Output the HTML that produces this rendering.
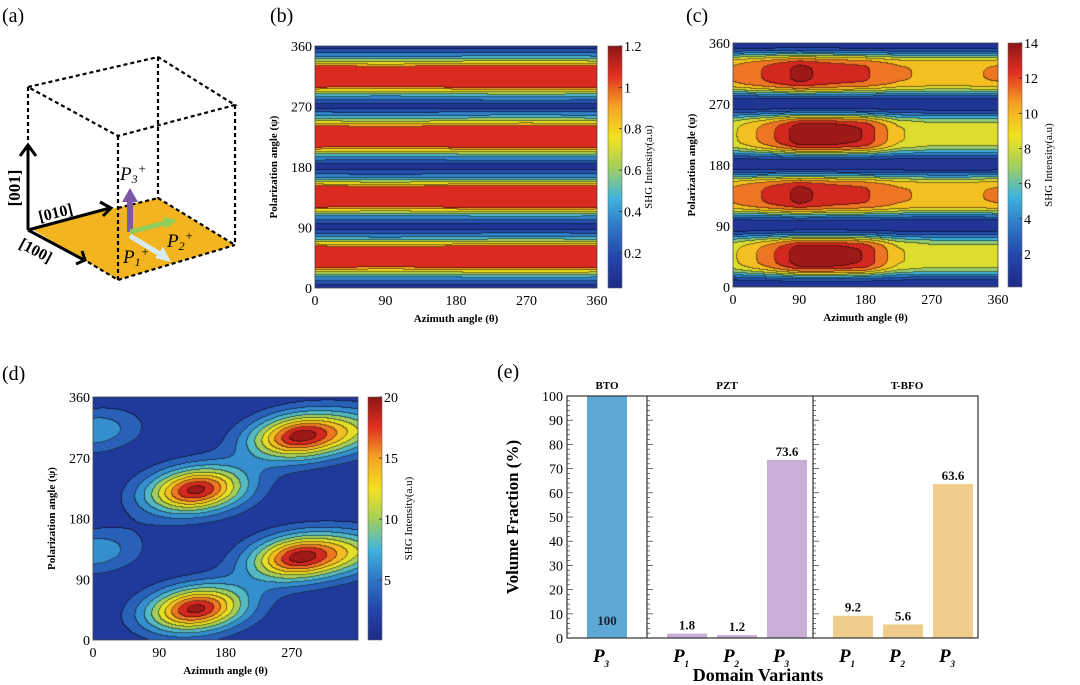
<!DOCTYPE html>
<html><head><meta charset="utf-8">
<style>
html,body{margin:0;padding:0;background:#fff;}
#root{position:relative;width:1080px;height:685px;overflow:hidden;font-family:"Liberation Serif",serif;}
canvas{position:absolute;}
svg{position:absolute;left:0;top:0;}
</style></head>
<body>
<div id="root">
<canvas id="cb" width="282" height="242" style="left:315px;top:46px"></canvas>
<canvas id="cc" width="265" height="244" style="left:733px;top:43px"></canvas>
<canvas id="cd" width="265" height="243" style="left:93px;top:397px"></canvas>
<svg id="sv" width="1080" height="685">
<defs>
<linearGradient id="jet" x1="0" y1="1" x2="0" y2="0">
<stop offset="0" stop-color="#1e2b86"/><stop offset="0.12" stop-color="#2244a8"/><stop offset="0.25" stop-color="#2f76c4"/><stop offset="0.37" stop-color="#3fb3dd"/><stop offset="0.5" stop-color="#a5cf5c"/><stop offset="0.62" stop-color="#f3e21e"/><stop offset="0.75" stop-color="#f4a424"/><stop offset="0.88" stop-color="#e22d22"/><stop offset="1" stop-color="#8c1515"/>
</linearGradient>
</defs>
<g fill="none" stroke="#000" stroke-width="2.2" stroke-dasharray="4,3">
<polygon points="30,228 158,198 235,245 118,280" fill="#f2b51f" stroke="none"/>
<polygon points="28,87 158,57 235,105 118,136"/>
<line x1="28" y1="87" x2="28" y2="140"/>
<line x1="158" y1="57" x2="158" y2="198"/>
<line x1="235" y1="105" x2="235" y2="245"/>
<line x1="118" y1="136" x2="118" y2="280"/>
<line x1="118" y1="208" x2="158" y2="198"/>
<line x1="158" y1="198" x2="235" y2="245"/>
<line x1="118" y1="280" x2="235" y2="245"/>
<line x1="88" y1="262" x2="118" y2="280"/>
</g>
<g stroke="#000" stroke-width="3" fill="none">
<polyline points="28,230 28,146"/><polyline points="20,156 28,145 36,156"/>
<polyline points="28,230 110,208"/><polyline points="100,202 111,208 103,216"/>
<polyline points="28,230 84,260"/><polyline points="76,264 85,260 82,251"/>
</g>
<text x="20" y="188" font-size="17" font-weight="bold" text-anchor="middle" transform="rotate(-90 20 188)">[001]</text>
<text x="40" y="222" font-size="16" font-weight="bold" transform="rotate(-14 40 222)">[010]</text>
<text x="18" y="247" font-size="16" font-weight="bold" transform="rotate(28 18 247)">[100]</text>
<g>
<line x1="130" y1="232" x2="130" y2="200" stroke="#7b59a8" stroke-width="6"/><polygon points="122,202 130,188 138,202" fill="#7b59a8"/>
<line x1="130" y1="232" x2="165" y2="223" stroke="#8fce5a" stroke-width="5"/><polygon points="163,217 177,220 166,229" fill="#8fce5a"/>
<line x1="130" y1="236" x2="160" y2="254" stroke="#d8eaf5" stroke-width="5"/><polygon points="155,258 171,262 163,247" fill="#d8eaf5"/>
</g>
<text x="120" y="180" font-size="19" font-style="italic">P<tspan font-size="12" dy="3">3</tspan><tspan font-size="13" dy="-10">+</tspan></text>
<text x="167" y="247" font-size="19" font-style="italic">P<tspan font-size="12" dy="3">2</tspan><tspan font-size="13" dy="-10">+</tspan></text>
<text x="123" y="263" font-size="19" font-style="italic">P<tspan font-size="12" dy="3">1</tspan><tspan font-size="13" dy="-10">+</tspan></text>
<text x="2" y="22" font-size="20">(a)</text>
<text x="270" y="22" font-size="20">(b)</text>
<text x="686" y="22" font-size="20">(c)</text>
<text x="2" y="380" font-size="20">(d)</text>
<text x="497" y="378" font-size="20">(e)</text>
</svg>
</div>
<script>
// ---- data ----
const psiSamplesB=[0,15,30,45,60,75,90,105,120,135,150,165,180,195,210,225,240,255,270,285,300,315,330,345,360];
const valuesB=[0.05,0.45,1.05,1.2,1.08,0.45,0.04,0.4,1.05,1.2,1.08,0.4,0.03,0.45,1.06,1.2,1.06,0.5,0.04,0.45,1.08,1.2,1.05,0.45,0.05];
const thetaSamplesC=[0,45,90,135,180,225,270,315,360];
const ampC_45_225=[8.5,11,14,14,13,9,8,8,8];
const ampC_135_315=[10.5,12,13.5,12.5,12,10.5,10,10,10.5];
const bandCentersC=[45,135,225,315];
const peakThetaD=[140,140,280,280,0,0,360,360];
const peakPsiD=[45,222,122,302,130,310,130,310];
const peakAmpD=[19,19,18,18,6,6,6,6];
const categoriesE=["BTO P3","PZT P1","PZT P2","PZT P3","T-BFO P1","T-BFO P2","T-BFO P3"];
const valuesE=[100,1.8,1.2,73.6,9.2,5.6,63.6];
const groupE=[0,1,1,1,2,2,2];
const valueLabelsE=["100","1.8","1.2","73.6","9.2","5.6","63.6"];
const subE=["3","1","2","3","1","2","3"];
const angleTicks=[0,90,180,270,360];
const ticksB=[0.2,0.4,0.6,0.8,1,1.2];
const ticksC=[2,4,6,8,10,12,14];
const ticksD=[5,10,15,20];
const yTicksE=[0,10,20,30,40,50,60,70,80,90,100];

const stops=[[0,[30,43,134]],[0.12,[34,68,168]],[0.25,[47,118,196]],[0.37,[63,179,221]],[0.5,[165,207,92]],[0.62,[243,226,30]],[0.75,[244,164,36]],[0.88,[226,45,34]],[1,[140,21,21]]];
function jet(t){t=Math.max(0,Math.min(1,t));for(let i=1;i<stops.length;i++){if(t<=stops[i][0]){const a=stops[i-1],b=stops[i],f=(t-a[0])/(b[0]-a[0]);return a[1].map((v,k)=>v+(b[1][k]-v)*f);}}return stops[stops.length-1][1];}
function interp(xs,ys,x){for(let i=1;i<xs.length;i++){if(x<=xs[i]){const f=(x-xs[i-1])/(xs[i]-xs[i-1]);return ys[i-1]+(ys[i]-ys[i-1])*f;}}return ys[ys.length-1];}
function fieldB(th,ps){return interp(psiSamplesB,valuesB,ps)*(1-0.03*Math.sin(th*Math.PI/180));}
function fieldC(th,ps){let v=0.2;bandCentersC.forEach((c,i)=>{const a=(i%2===0)?interp(thetaSamplesC,ampC_45_225,th):interp(thetaSamplesC,ampC_135_315,th);const d=(ps-c)/27;v+=a*Math.exp(-d*d*d*d*0.6);});return v;}
function fieldD(th,ps){let v=0.8;for(let i=0;i<peakAmpD.length;i++){const dx=(th-peakThetaD[i])/66,dy=(ps-peakPsiD[i]-0.1*(th-peakThetaD[i]))/33;v+=peakAmpD[i]*Math.exp(-Math.pow(dx*dx+dy*dy,0.9));}return v;}
function render(id,fn,xmax,levels,vmin,vmax){
  const cv=document.getElementById(id),ctx=cv.getContext('2d'),W=cv.width,H=cv.height;
  const img=ctx.createImageData(W,H);const idx=new Int16Array(W*H);
  for(let y=0;y<H;y++)for(let x=0;x<W;x++){const th=x/(W-1)*xmax,ps=(1-y/(H-1))*360;const v=fn(th,ps);let k=0;while(k<levels.length&&v>=levels[k])k++;idx[y*W+x]=k;}
  const cols=[];for(let k=0;k<=levels.length;k++){const lo=k===0?vmin:levels[k-1],hi=k===levels.length?vmax:levels[k];cols.push(jet(((lo+hi)/2-vmin)/(vmax-vmin)));}
  for(let y=0;y<H;y++)for(let x=0;x<W;x++){const p=y*W+x,k=idx[p];let c=cols[k];const edge=(x<W-1&&idx[p+1]!==k)||(y<H-1&&idx[p+W]!==k);if(edge)c=c.map(v=>v*0.5);img.data[p*4]=c[0];img.data[p*4+1]=c[1];img.data[p*4+2]=c[2];img.data[p*4+3]=255;}
  ctx.putImageData(img,0,0);
}
render('cb',fieldB,360,[0.15,0.3,0.45,0.6,0.75,0.9,1.02],0.03,1.3);
render('cc',fieldC,360,[1.5,3,4.5,6,7.5,9,10.5,12,13.3],0.12,14);
render('cd',fieldD,360,[3,5,7,9,11,13,15,17,19],0.1,20);

const NS="http://www.w3.org/2000/svg",sv=document.getElementById('sv');
function mk(tag,at){const e=document.createElementNS(NS,tag);for(const k in at)e.setAttribute(k,at[k]);sv.appendChild(e);return e;}
function txt(x,y,s,at){const e=mk('text',Object.assign({x:x,y:y},at||{}));e.textContent=s;return e;}
function contourAxes(key,L,T,W,H,xmaxTicks,cbx,cbmin,cbmax,cbTicks){
  const fr=mk('rect',{x:L,y:T,width:W,height:H,fill:'none',stroke:'#444','stroke-width':0.8});
  
  xmaxTicks.forEach(v=>{const x=L+v/360*W;const t=txt(x,T+H+17,String(v),{'font-size':14,'text-anchor':'middle'});
    });
  angleTicks.forEach(v=>{const y=T+H-v/360*H;const t=txt(L-3,y+5,String(v),{'font-size':14,'text-anchor':'end'});
    });
  const xt=txt(L+W/2,T+H+34,'Azimuth angle (θ)',{'font-size':11,'font-weight':'bold','text-anchor':'middle'});
  
  const yx=L-38,yy=T+H/2;const yt=txt(yx,yy,'Polarization angle (ψ)',{'font-size':11,'font-weight':'bold','text-anchor':'middle',transform:`rotate(-90 ${yx} ${yy})`});
  
  const cb=mk('rect',{x:cbx,y:T,width:14,height:H,fill:'url(#jet)',stroke:'#666','stroke-width':0.6});
  
  cbTicks.forEach(v=>{const y=T+H-(v-cbmin)/(cbmax-cbmin)*H;const t=txt(cbx+16,y+5,String(v),{'font-size':14});
    
    mk('line',{x1:cbx+11,y1:y,x2:cbx+14,y2:y,stroke:'#333','stroke-width':0.8});});
  const cx=cbx+44,cy=T+H/2;const ct=txt(cx,cy,'SHG Intensity(a.u)',{'font-size':11,'text-anchor':'middle',transform:`rotate(-90 ${cx} ${cy})`});
  
}
contourAxes('b',315,46,282,242,angleTicks,608,0.03,1.2,ticksB);
contourAxes('c',733,43,265,244,angleTicks,1008,0.12,14,ticksC);
contourAxes('d',93,397,265,243,[0,90,180,270],368,0.1,20,ticksD);

// ---- panel e ----
const eL=567,eT=396,eR=978,eB=638,divs=[647,813];
function yE(v){return eB-v/100*(eB-eT);}
const barX=[587,667,717,767,833,883,933],barColors=['#5ea8d6','#c9aed8','#f0cd8a'];
valuesE.forEach((v,i)=>{
  const r=mk('rect',{x:barX[i],y:yE(v),width:40,height:eB-yE(v),fill:barColors[groupE[i]]});
  
  const ly=i===0?eB-13:yE(v)-4;
  const t=txt(barX[i]+20,ly,valueLabelsE[i],{'font-size':13,'font-weight':'bold','text-anchor':'middle',fill:i===0?'#123':'#111'});
  
  const p=txt(barX[i]+14,eB+24,'P',{'font-size':19,'font-weight':'bold','font-style':'italic','text-anchor':'middle'});
  const s=mk('tspan',{'font-size':9,dy:5});s.textContent=subE[i];p.appendChild(s);
  
});
const fe=mk('rect',{x:eL,y:eT,width:eR-eL,height:eB-eT,fill:'none',stroke:'#333','stroke-width':1.2});

divs.forEach(x=>{const l=mk('line',{x1:x,y1:eT,x2:x,y2:eB,stroke:'#333','stroke-width':1.2});
  });
for(let v=0;v<=100;v+=2){const y=yE(v),len=v%10===0?6:3;[eL,divs[0],divs[1]].forEach(x=>mk('line',{x1:x,y1:y,x2:x+len,y2:y,stroke:'#333','stroke-width':0.7}));}
yTicksE.forEach(v=>{const t=txt(eL-4,yE(v)+5,String(v),{'font-size':14,'text-anchor':'end'});
  });
[['BTO',607],['PZT',727],['T-BFO',907]].forEach(g=>{const t=txt(g[1],eT-7,g[0],{'font-size':11,'font-weight':'bold','text-anchor':'middle'});
  });
const vt=txt(518,517,'Volume Fraction (%)',{'font-size':17,'font-weight':'bold','text-anchor':'middle',transform:'rotate(-90 518 517)'});

const dt=txt(758,681,'Domain Variants',{'font-size':18,'font-weight':'bold','text-anchor':'middle'});

</script>
</body></html>
